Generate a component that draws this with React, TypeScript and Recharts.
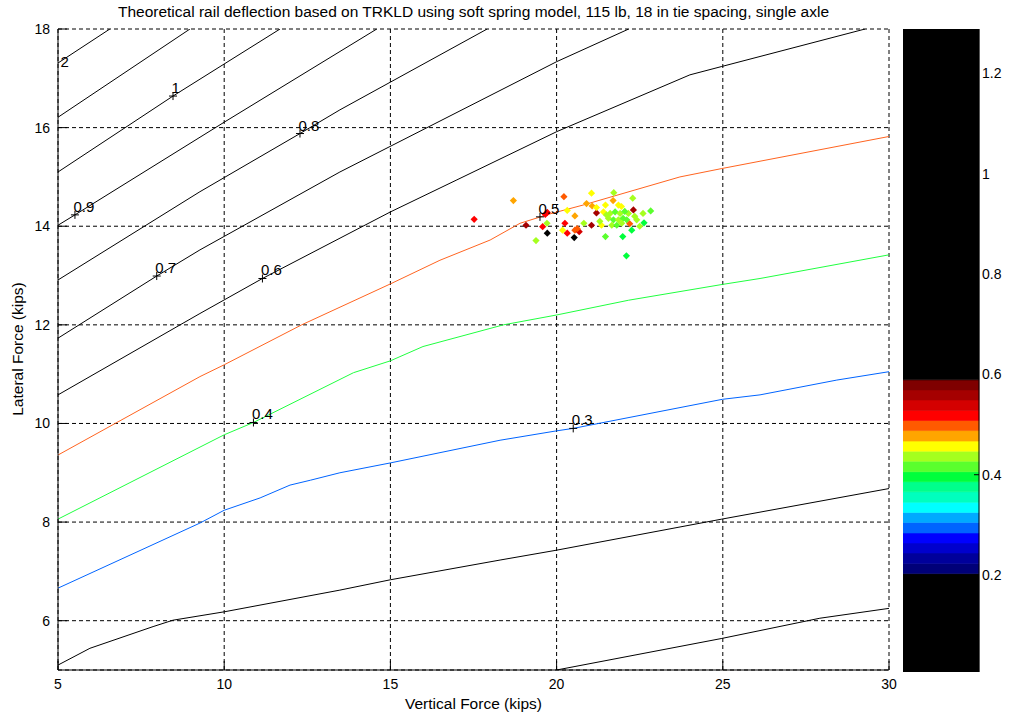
import React from 'react';
import { ComposedChart, Line, Scatter, Bar, XAxis, YAxis, CartesianGrid } from 'recharts';

const FONT = '"Liberation Sans", Arial, sans-serif';

const xTicks = [5, 10, 15, 20, 25, 30];
const yTicks = [6, 8, 10, 12, 14, 16, 18];

// contour lines, [vertical kips, lateral kips]
const c12 = [[5, 17.31], [6.56, 18]];
const c11 = [[5, 16.21], [8.97, 18]];
const c10 = [[5, 15.1], [8.46, 16.64], [11.68, 18]];
const c09 = [[5, 14.02], [5.51, 14.23], [10, 16.11], [14.59, 18]];
const c08 = [[5, 12.91], [9.27, 14.7], [12.28, 15.88], [13.48, 16.36], [17.91, 18]];
const c07 = [[5, 11.73], [7.97, 12.99], [9.27, 13.52], [13.48, 15.1], [20.01, 17.34], [22.17, 18]];
const c06 = [[5, 10.58], [9.27, 12.23], [11.15, 12.94], [15, 14.29], [17, 14.94], [20.01, 15.92], [24.01, 17.07], [24.97, 17.24], [29.28, 18]];
const c05 = [[5, 9.36], [9.27, 10.95], [10, 11.19], [12.33, 12.0], [15, 12.83], [16.49, 13.31], [18.0, 13.72], [18.9, 14.06], [19.8, 14.25], [20.8, 14.43], [23.71, 15.0], [24.97, 15.17], [30, 15.82]];
const c04 = [[5, 8.06], [10, 9.77], [10.88, 10.02], [13.89, 11.03], [15, 11.27], [15.98, 11.56], [18.4, 12.0], [20, 12.2], [22.17, 12.5], [24.99, 12.82], [26.12, 12.94], [30, 13.42]];
const c03 = [[5, 6.66], [9.27, 7.98], [10, 8.24], [11.08, 8.49], [11.98, 8.75], [12.6, 8.85], [13.48, 9.0], [15, 9.2], [18.3, 9.66], [20, 9.85], [20.5, 9.9], [24.99, 10.49], [26.12, 10.58], [28.43, 10.88], [30, 11.05]];
const c02 = [[5, 5.1], [5.96, 5.44], [7.86, 5.88], [8.46, 6.01], [10, 6.18], [13.48, 6.62], [15, 6.83], [18.3, 7.23], [20, 7.43], [24.97, 8.06], [30, 8.68]];
const c01 = [[20, 5.0], [24.97, 5.64], [27.92, 6.05], [30, 6.25]];

const contourData = [c12, c11, c10, c09, c08, c07, c06, c05, c04, c03, c02, c01];
const contourColors = ['#000', '#000', '#000', '#000', '#000', '#000', '#000', '#ff6420', '#20ff40', '#0064ff', '#000', '#000'];

// clabel positions
const labelText = ['2', '1', '0.9', '0.8', '0.7', '0.6', '0.5', '0.4', '0.3'];
const labelX = [5.12, 8.46, 5.51, 12.28, 7.97, 11.15, 19.5, 10.88, 20.5];
const labelY = [17.17, 16.64, 14.23, 15.88, 12.99, 12.94, 14.19, 10.02, 9.9];
const labelPlus = [false, true, true, true, true, true, true, true, true];

// measured points: vertical force, lateral force, deflection
const ptX = [17.52, 18.7, 19.08, 19.38, 19.58, 19.72, 19.72, 19.66, 19.71, 20.22, 20.32, 20.25, 20.18, 20.32, 20.55, 20.55, 20.68, 20.53, 20.62, 20.82,
  20.9, 21.05, 21.07, 21.05, 21.2, 21.35, 21.47, 21.41, 21.5, 21.47, 21.72, 21.7, 21.86, 21.61, 21.76, 21.91, 21.56, 21.71, 21.86, 22.0,
  21.66, 21.81, 21.96, 22.11, 22.16, 22.41, 21.99, 22.1, 22.29, 22.31, 22.2, 22.26, 22.5, 22.6, 22.63, 22.83, 21.95, 22.05, 21.3, 21.2, 22.35];
const ptY = [14.14, 14.52, 14.02, 13.71, 13.99, 13.86, 14.28, 14.24, 14.06, 14.6, 14.32, 14.06, 13.92, 13.86, 14.21, 13.92, 13.89, 13.77, 13.95, 14.06,
  14.46, 14.67, 14.41, 14.02, 14.27, 14.02, 14.43, 14.29, 14.23, 13.79, 14.68, 14.52, 14.43, 14.26, 14.29, 14.26, 14.16, 14.13, 14.13, 14.16,
  14.02, 14.02, 14.06, 14.13, 14.26, 14.13, 13.79, 13.4, 14.57, 14.33, 14.05, 13.92, 14.0, 14.26, 14.07, 14.31, 14.4, 14.3, 14.1, 14.38, 14.2];
const ptV = [0.518, 0.477, 0.56, 0.437, 0.518, 0.62, 0.518, 0.518, 0.437, 0.497, 0.457, 0.518, 0.457, 0.518, 0.477, 0.497, 0.538, 0.62, 0.497, 0.437,
  0.477, 0.457, 0.477, 0.56, 0.56, 0.457, 0.457, 0.457, 0.437, 0.415, 0.437, 0.477, 0.457, 0.437, 0.415, 0.437, 0.437, 0.415, 0.437, 0.415,
  0.437, 0.415, 0.437, 0.415, 0.437, 0.437, 0.395, 0.395, 0.437, 0.56, 0.497, 0.395, 0.437, 0.437, 0.395, 0.415, 0.457, 0.415, 0.437, 0.457, 0.437];

// colorbar: black outside these bands
const cbarDomain = [0.007, 1.288];
const barTicks = [0.2, 0.4, 0.6, 0.8, 1, 1.2];
const bandEdges = [0.203, 0.223, 0.244, 0.264, 0.284, 0.305, 0.325, 0.345, 0.366, 0.386, 0.406, 0.427, 0.447, 0.467, 0.488, 0.508, 0.528, 0.549, 0.569, 0.589];
const bandColors = ['#000078', '#00009b', '#0000cd', '#0000ff', '#0064ff', '#00aaff', '#00ffff', '#00ffbe', '#00ff8c', '#00ff3c',
  '#5aff2d', '#a5ff1e', '#ffff00', '#ffa500', '#ff5a00', '#ff0000', '#d40000', '#a50000', '#7f0000'];

const colorOf = (v: number) => {
  for (let i = 0; i < bandColors.length; i++) {
    if (v >= bandEdges[i] && v < bandEdges[i + 1]) return bandColors[i];
  }
  return '#000';
};

const contours = contourData.map((pts, i) => ({
  color: contourColors[i],
  rows: pts.map(([x, y]) => ({ x, y })),
}));
const labelRows = labelText.map((t, i) => ({ x: labelX[i], y: labelY[i], text: t, plus: labelPlus[i] }));
const pointRows = ptX.map((x, i) => ({ x, y: ptY[i], color: colorOf(ptV[i]) }));

// colorbar as one stacked bar: black base, colour bands, black top
const segColors = ['#000', ...bandColors, '#000'];
const segValues = [
  bandEdges[0],
  ...bandColors.map((_, i) => bandEdges[i + 1] - bandEdges[i]),
  cbarDomain[1] - bandEdges[bandEdges.length - 1],
];
const barRow: Record<string, any> = { name: 'cb' };
segValues.forEach((v, i) => { barRow['s' + i] = v; });
const barRows = [barRow];

const Diamond = (props: any) => {
  const { cx, cy, payload } = props;
  if (cx == null || cy == null) return null;
  const r = 3.6;
  return <polygon points={`${cx},${cy - r} ${cx + r},${cy} ${cx},${cy + r} ${cx - r},${cy}`} fill={payload.color} />;
};

const ContourLabel = (props: any) => {
  const { cx, cy, payload } = props;
  if (cx == null || cy == null) return null;
  return (
    <g>
      {payload.plus && (
        <path d={`M${cx - 4},${cy}H${cx + 4}M${cx},${cy - 4}V${cy + 4}`} stroke="#000" strokeWidth={1} />
      )}
      <text x={cx - 1.5} y={cy - 3} fontSize={15} fontFamily={FONT} fill="#000">{payload.text}</text>
    </g>
  );
};

const tickStyle = { fill: '#000', fontSize: 14, fontFamily: FONT };
const black = { stroke: '#000' };

export default function App() {
  return (
    <div style={{ position: 'absolute', left: 0, top: 0, width: 1012, height: 721, background: '#fff', fontFamily: FONT, color: '#000' }}>
      <div style={{ position: 'absolute', left: 58, top: 3, width: 831, textAlign: 'center', fontSize: 15.5, lineHeight: '18px', whiteSpace: 'nowrap' }}>
        Theoretical rail deflection based on TRKLD using soft spring model, 115 lb, 18 in tie spacing, single axle
      </div>
      <div style={{ position: 'absolute', left: 58, top: 695, width: 831, textAlign: 'center', fontSize: 15.5, lineHeight: '18px' }}>
        Vertical Force (kips)
      </div>
      <div style={{ position: 'absolute', left: 18, top: 349, transform: 'translate(-50%, -50%) rotate(-90deg)', fontSize: 15.5, lineHeight: '18px', whiteSpace: 'nowrap' }}>
        Lateral Force (kips)
      </div>

      <div style={{ position: 'absolute', left: 0, top: 0 }}>
        <ComposedChart width={900} height={721} margin={{ top: 29, right: 11, bottom: 0, left: 0 }}>
          <CartesianGrid stroke="#000" strokeDasharray="4 3" />
          <XAxis xAxisId={0} type="number" dataKey="x" domain={[5, 30]} ticks={xTicks} interval={0} height={51}
            tickSize={-9} tickMargin={18} axisLine={black} tickLine={black} tick={tickStyle} allowDataOverflow />
          <XAxis xAxisId="top" orientation="top" type="number" dataKey="x" domain={[5, 30]} ticks={xTicks} interval={0} height={0}
            tickSize={-9} axisLine={black} tickLine={black} tick={false} allowDataOverflow />
          <YAxis yAxisId={0} type="number" dataKey="y" domain={[5, 18]} ticks={yTicks} interval={0} width={58}
            tickSize={-9} tickMargin={17} axisLine={black} tickLine={black} tick={tickStyle} allowDataOverflow />
          <YAxis yAxisId="right" orientation="right" type="number" dataKey="y" domain={[5, 18]} ticks={yTicks} interval={0} width={0}
            tickSize={-9} axisLine={black} tickLine={black} tick={false} allowDataOverflow />
          {contours.map((c, i) => (
            <Line key={i} data={c.rows} dataKey="y" stroke={c.color} strokeWidth={1} dot={false} activeDot={false}
              isAnimationActive={false} type="linear" />
          ))}
          <Scatter data={pointRows} dataKey="y" shape={Diamond} isAnimationActive={false} />
          <Scatter data={labelRows} dataKey="y" shape={ContourLabel} isAnimationActive={false} />
        </ComposedChart>
      </div>

      <div style={{ position: 'absolute', left: 903, top: 0 }}>
        <ComposedChart width={109} height={721} data={barRows} barCategoryGap={0} barGap={0}
          margin={{ top: 29, right: 0, bottom: 49, left: 0 }}>
          <XAxis xAxisId={0} dataKey="name" type="category" height={0} tick={false} tickLine={false} axisLine={black} />
          <XAxis xAxisId="top" orientation="top" dataKey="name" type="category" height={0} tick={false} tickLine={false} axisLine={black} />
          <YAxis yAxisId={0} type="number" domain={cbarDomain} ticks={barTicks} interval={0} width={0}
            tickSize={-5} tick={false} axisLine={black} tickLine={black} allowDataOverflow />
          <YAxis yAxisId="lab" orientation="right" type="number" domain={cbarDomain} ticks={barTicks} interval={0} width={33}
            tickSize={-5} tickMargin={8} axisLine={black} tickLine={black} tick={tickStyle} allowDataOverflow />
          {segColors.map((col, i) => (
            <Bar key={i} dataKey={'s' + i} stackId="cb" fill={col} stroke={col} strokeWidth={0.6} isAnimationActive={false} />
          ))}
        </ComposedChart>
      </div>
    </div>
  );
}
